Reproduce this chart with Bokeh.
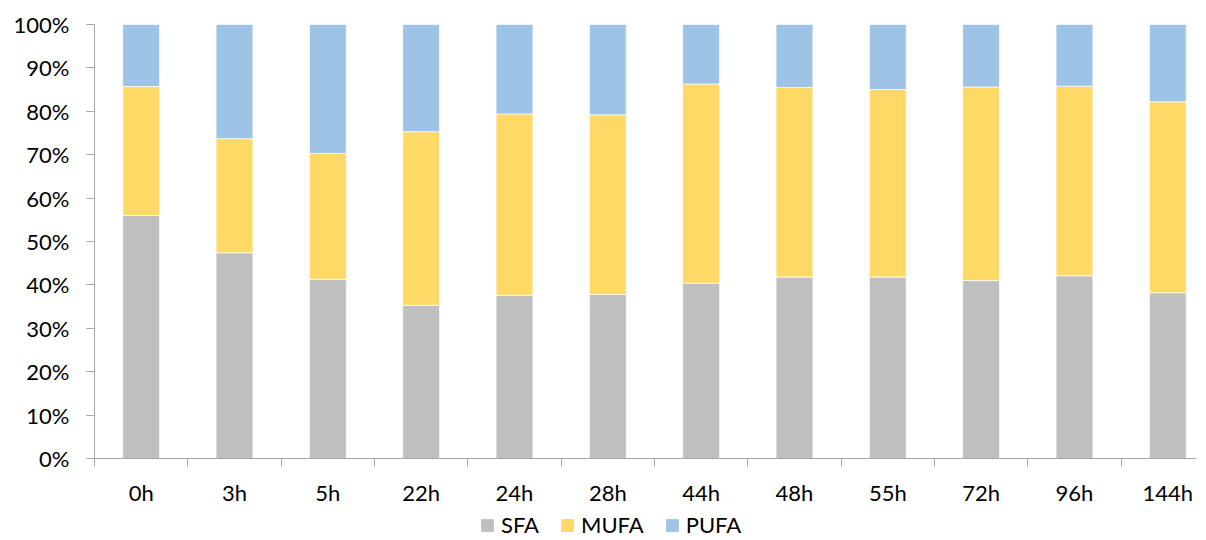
from bokeh.plotting import figure
from bokeh.layouts import column
from bokeh.models import Range1d, FixedTicker, Legend, LegendItem, ColumnDataSource
from bokeh.embed import file_html
from bokeh.resources import INLINE

categories = ["0h", "3h", "5h", "22h", "24h", "28h", "44h", "48h", "55h", "72h", "96h", "144h"]
sfa = [56.0, 47.4, 41.3, 35.3, 37.6, 37.8, 40.4, 41.8, 41.8, 41.0, 42.1, 38.2]
mufa = [29.7, 26.3, 29.0, 40.0, 41.8, 41.4, 45.9, 43.7, 43.2, 44.6, 43.7, 44.0]
pufa = [14.3, 26.3, 29.7, 24.7, 20.6, 20.8, 13.7, 14.5, 15.0, 14.4, 14.2, 17.8]
y_ticks = [0, 10, 20, 30, 40, 50, 60, 70, 80, 90, 100]
series = ["SFA", "MUFA", "PUFA"]
colors = ["#bfbfbf", "#fed966", "#9dc3e6"]

n = len(categories)
xs = [i + 0.5 for i in range(n)]
source = ColumnDataSource(dict(x=xs, SFA=sfa, MUFA=mufa, PUFA=pufa))

FONT = "Lato"
W = 1196
XR = Range1d(0, (W - 94) / 93.33)
p = figure(width=W, height=512, output_backend="svg", toolbar_location=None,
           x_range=XR, y_range=Range1d(0, 100),
           min_border_left=94, min_border_right=0, min_border_top=24, min_border_bottom=54)
p.outline_line_color = None
p.grid.visible = False

p.vbar_stack(series, x="x", width=0.395, source=source, color=colors,
             line_color="white", line_alpha=0.7, line_width=1)

# y axis
ya = p.yaxis[0]
ya.ticker = FixedTicker(ticks=y_ticks)
ya.major_label_overrides = {t: f"{t}%" for t in y_ticks}
ya.major_tick_in = 0
ya.major_tick_out = 8
ya.minor_tick_line_color = None
ya.axis_line_color = "#a6a6a6"
ya.major_tick_line_color = "#a6a6a6"
ya.major_label_text_font = FONT
ya.major_label_text_font_size = "22px"
ya.major_label_text_color = "#000000"
ya.major_label_standoff = 17

# x axis
xa = p.xaxis[0]
xa.ticker = FixedTicker(ticks=xs, minor_ticks=list(range(n + 1)))
xa.major_label_overrides = {x: c for x, c in zip(xs, categories)}
xa.major_tick_line_color = None
xa.minor_tick_in = 0
xa.minor_tick_out = 8
xa.minor_tick_line_color = "#a6a6a6"
xa.axis_line_color = "#a6a6a6"
xa.major_label_text_font = FONT
xa.major_label_text_font_size = "22px"
xa.major_label_text_color = "#000000"
xa.major_label_standoff = 12

# legend strip (same stacked bars, kept out of its visible y range)
lg = figure(width=W, height=26, output_backend="svg", toolbar_location=None,
            x_range=XR, y_range=Range1d(101, 102),
            min_border_left=94, min_border_right=0, min_border_top=0, min_border_bottom=0)
lg.outline_line_color = None
lg.axis.visible = False
lg.grid.visible = False
lr = lg.vbar_stack(series, x="x", width=0.395, source=source, color=colors, line_color=None)
items = [LegendItem(label=s, renderers=[r]) for s, r in zip(series, lr)]
legend = Legend(items=items, orientation="horizontal", location=(385, 0),
                label_text_font=FONT, label_text_font_size="22px", label_text_color="#000000",
                glyph_width=16, glyph_height=16, label_standoff=6, spacing=20,
                border_line_color=None, background_fill_alpha=0, padding=0, margin=0)
lg.add_layout(legend)

layout = column(p, lg, spacing=0)
open("out.html", "w").write(file_html(layout, INLINE))
